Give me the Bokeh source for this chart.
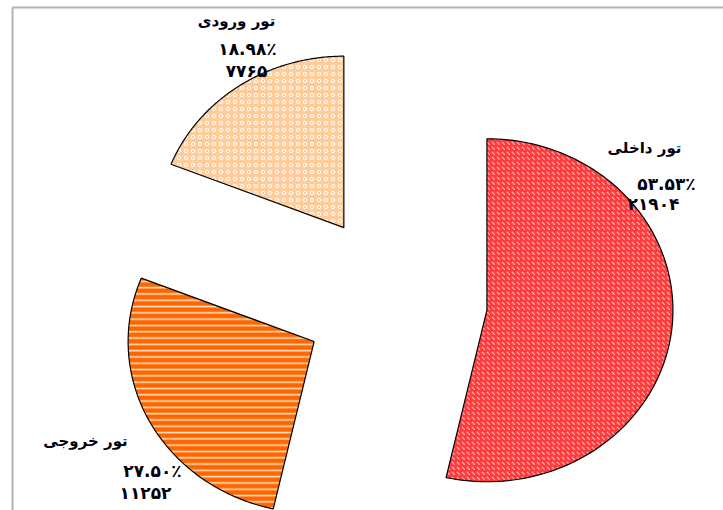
import math
from bokeh.plotting import figure
from bokeh.models import Range1d, BoxAnnotation, ColumnDataSource
from bokeh.core.properties import value
from bokeh.embed import file_html
from bokeh.resources import INLINE

# ---- data ----
categories = ["تور داخلی", "تور خروجی", "تور ورودی"]
counts = [21904, 11252, 7765]

# ---- styles / layout ----
fills = ["#FF3B3B", "#FF6600", "#FFCC99"]
hatches = ["left_diagonal_dash", "horizontal_line", "ring"]
hatch_colors = ["#FFB0B0", "#FFE0C0", "#FFFFFF"]
hatch_scales = [5, 6.3, 7]
hatch_weights = [1.2, 1.6, 1.0]
center_x, center_y = 395, 300
rx, ry = 186, 171.5
explode_x, explode_y = 92, 88
name_pos = [(644, 147), (85, 440), (236, 20)]
pct_pos = [(666, 183), (152, 470), (247, 48)]
val_pos = [(653, 203), (145, 492), (246, 70)]

fa = str.maketrans("0123456789", "۰۱۲۳۴۵۶۷۸۹")
total = sum(counts)

p = figure(width=723, height=510, output_backend="svg", toolbar_location=None,
           x_range=Range1d(0, 723), y_range=Range1d(510, 0),
           min_border=0, outline_line_color=None)
p.axis.visible = False
p.grid.visible = False
p.background_fill_color = "white"
p.border_fill_color = "white"

start = 0.0
for i, v in enumerate(counts):
    frac = v / total
    a0 = start * 2 * math.pi
    a1 = (start + frac) * 2 * math.pi
    mid = (a0 + a1) / 2
    ax = center_x + explode_x * math.sin(mid)
    ay = center_y - explode_y * math.cos(mid)
    n = 120
    xs = [ax]
    ys = [ay]
    for k in range(n + 1):
        t = a0 + (a1 - a0) * k / n
        xs.append(ax + rx * math.sin(t))
        ys.append(ay - ry * math.cos(t))
    p.patch(xs, ys, fill_color=fills[i], line_color="black", line_width=1.2,
            hatch_pattern=hatches[i], hatch_color=hatch_colors[i],
            hatch_scale=hatch_scales[i], hatch_weight=hatch_weights[i])
    start += frac

labels_x, labels_y, labels_t, sizes = [], [], [], []
for i, v in enumerate(counts):
    pct = f"{100 * v / total:.2f}".translate(fa) + "٪"
    val = str(v).translate(fa)
    for (x, y), t, s in ((name_pos[i], categories[i], "15px"),
                         (pct_pos[i], pct, "17px"),
                         (val_pos[i], val, "17px")):
        labels_x.append(x)
        labels_y.append(y)
        labels_t.append(t)
        sizes.append(s)

src = ColumnDataSource(dict(x=labels_x, y=labels_y, t=labels_t, s=sizes))
p.text(x="x", y="y", text="t", source=src, text_font=value("DejaVu Sans"),
       text_font_style="bold", text_font_size="s", text_color="#000010",
       text_align="center", text_baseline="middle")

p.add_layout(BoxAnnotation(left=12, right=740, top=7, bottom=530,
                           fill_alpha=0, line_color="black", line_width=2))

open("out.html", "w").write(file_html(p, INLINE))
